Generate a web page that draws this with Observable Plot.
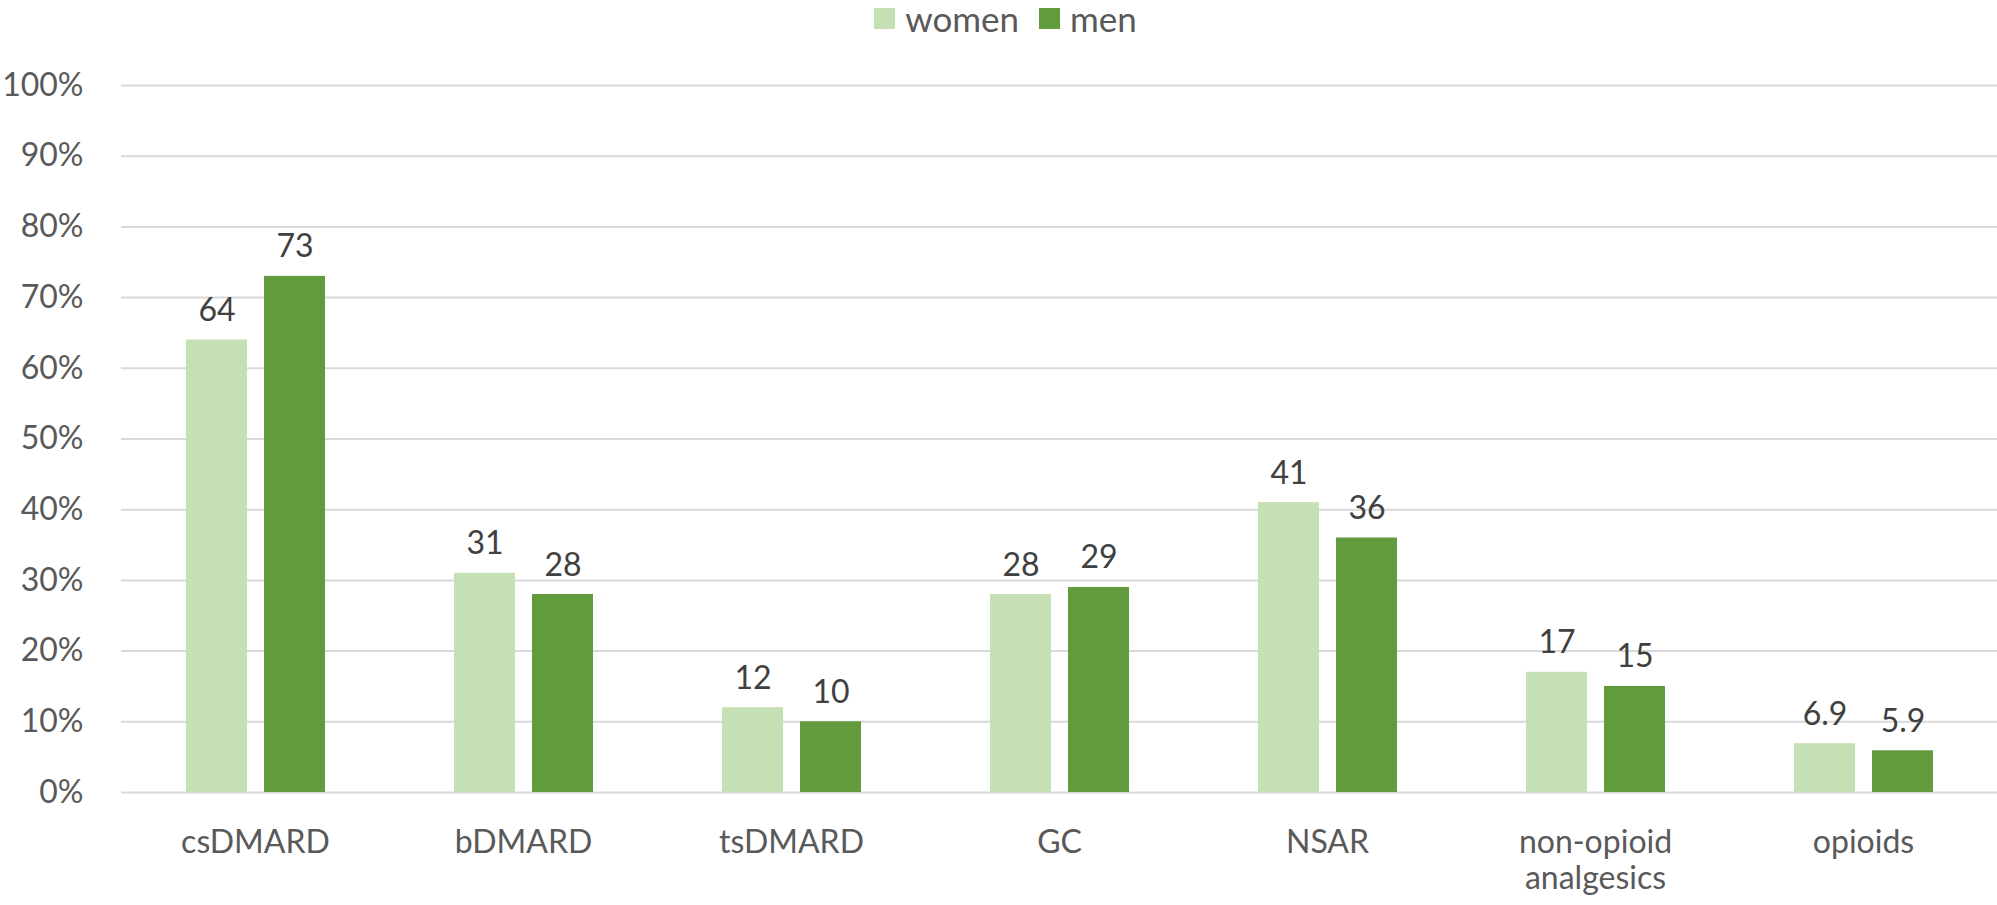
<!DOCTYPE html>
<html>
<head>
<meta charset="utf-8">
<script src="https://cdn.jsdelivr.net/npm/d3@7"></script>
<script src="https://cdn.jsdelivr.net/npm/@observablehq/plot@0.6"></script>
<style>
  html, body { margin: 0; padding: 0; background: #fff; }
  body { width: 1997px; height: 905px; overflow: hidden; font-family: Lato, "Open Sans", sans-serif; }
  #legend { height: 36px; display: flex; justify-content: center; align-items: center; font-size: 35px; color: #595959; padding-left: 14px; box-sizing: border-box; }
  #legend .item { display: flex; align-items: center; margin: 0 10px; }
  #legend .sw { width: 21px; height: 21px; margin-right: 10px; }
  #chart svg { display: block; }
</style>
</head>
<body>
<div id="legend"></div>
<div id="chart"></div>
<script>
const categories = ["csDMARD", "bDMARD", "tsDMARD", "GC", "NSAR", "non-opioid analgesics", "opioids"];
const categoryLabels = ["csDMARD", "bDMARD", "tsDMARD", "GC", "NSAR", "non-opioid\nanalgesics", "opioids"];
const series = ["women", "men"];
const women = [64, 31, 12, 28, 41, 17, 6.9];
const men = [73, 28, 10, 29, 36, 15, 5.9];
const colors = ["#C5E0B4", "#629A3E"];
const yTicks = [0, 10, 20, 30, 40, 50, 60, 70, 80, 90, 100];

const data = [];
categories.forEach((c, i) => {
  data.push({cat: c, sex: "women", value: women[i]});
  data.push({cat: c, sex: "men", value: men[i]});
});

// legend
const legend = document.getElementById("legend");
series.forEach((s, i) => {
  const item = document.createElement("div");
  item.className = "item";
  const sw = document.createElement("div");
  sw.className = "sw";
  sw.style.background = colors[i];
  const lab = document.createElement("span");
  lab.textContent = s;
  item.appendChild(sw);
  item.appendChild(lab);
  legend.appendChild(item);
});

const labelOf = new Map(categories.map((c, i) => [c, categoryLabels[i]]));

const chart = Plot.plot({
  width: 1997,
  height: 869,
  marginLeft: 121,
  marginRight: 0,
  marginTop: 49,
  marginBottom: 113,
  style: {fontFamily: "Lato, 'Open Sans', sans-serif", background: "#fff"},
  fx: {domain: categories, paddingInner: 0, paddingOuter: 0, label: null},
  x: {domain: series, paddingInner: 0.22, paddingOuter: 0.82, axis: null},
  y: {domain: [0, 100], label: null},
  color: {domain: series, range: colors},
  marks: [
    Plot.gridY(yTicks, {stroke: "#D9D9D9", strokeOpacity: 1, strokeWidth: 2}),
    Plot.axisY(yTicks, {tickSize: 0, tickPadding: 38, tickFormat: d => d + "%", fontSize: 32, fill: "#595959", label: null}),
    Plot.barY(data, {fx: "cat", x: "sex", y: "value", fill: "sex"}),
    Plot.text(data, {fx: "cat", x: "sex", y: "value", text: d => String(d.value), dy: -19, lineAnchor: "bottom", fontSize: 32, fill: "#404040"}),
    Plot.axisFx({anchor: "bottom", tickSize: 0, tickPadding: 34, fontSize: 32, lineHeight: 1.15, fill: "#595959", tickFormat: d => labelOf.get(d), label: null})
  ]
});
document.getElementById("chart").appendChild(chart);
</script>
</body>
</html>
